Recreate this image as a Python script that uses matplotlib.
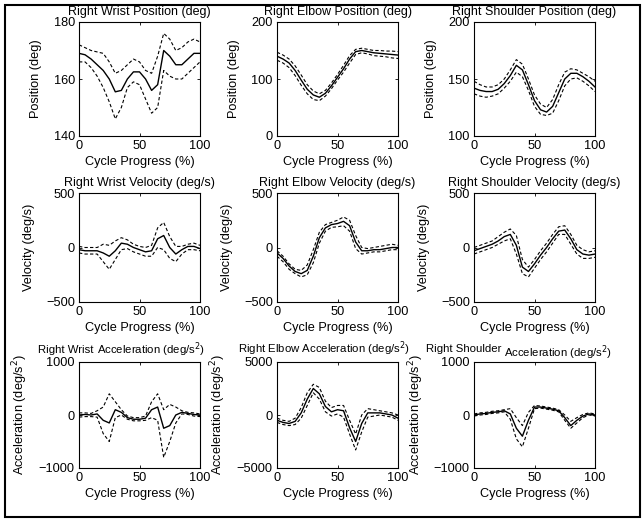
import numpy as np
import matplotlib
matplotlib.use("Agg")
import matplotlib.pyplot as plt
from matplotlib.patches import Rectangle

plt.rcParams['font.family'] = ['Liberation Sans', 'DejaVu Sans']
plt.rcParams['font.size'] = 9.2

# Cycle progress (%) sample points
progress = [0, 5, 10, 15, 20, 25, 30, 35, 40, 45, 50, 55, 60, 65, 70, 75, 80, 85, 90, 95, 100]

# Position (deg): mean, upper (+SD), lower (-SD)
wrist_pos_mean = [169, 168.5, 167, 165, 163, 160, 155.5, 156, 160, 162.5, 162.5, 160, 156, 158, 170, 168, 165, 165, 167, 169, 169]
wrist_pos_up = [172, 171, 170, 169.5, 169, 166, 162, 163, 165, 167, 166, 163, 162, 168, 176, 174, 170, 171, 173, 174, 173]
wrist_pos_low = [166, 166, 164, 161, 157, 152, 146, 150, 157, 159, 158, 153, 148, 150, 163, 161, 160, 160, 162, 164, 166]

elbow_pos_mean = [140, 135, 128, 115, 98, 82, 72, 68, 75, 88, 103, 118, 135, 148, 150, 148, 146, 145, 144, 143, 142]
elbow_pos_up = [147, 142, 135, 123, 107, 90, 79, 74, 80, 93, 108, 124, 141, 152, 154, 152, 150, 150, 149, 149, 148]
elbow_pos_low = [133, 128, 120, 106, 89, 74, 64, 62, 70, 83, 98, 112, 128, 143, 146, 144, 141, 140, 139, 137, 136]

shoulder_pos_mean = [142, 140, 139, 139, 141, 146, 153, 162, 158, 145, 131, 123, 121, 126, 138, 150, 155, 155, 152, 148, 143]
shoulder_pos_up = [148, 145, 143, 143, 145, 150, 158, 167, 163, 150, 136, 128, 125, 132, 145, 156, 159, 158, 155, 152, 148]
shoulder_pos_low = [137, 135, 134, 135, 137, 142, 148, 156, 152, 140, 126, 119, 118, 120, 131, 144, 150, 151, 148, 144, 139]

# Velocity (deg/s)
wrist_vel_mean = [-20, -30, -30, -30, -50, -80, -30, 40, 30, 0, -20, -40, -30, 80, 110, 0, -60, -20, 10, 10, -10]
wrist_vel_up = [10, 0, 0, 0, 30, 20, 60, 90, 70, 30, 10, 0, 20, 180, 230, 100, 10, 10, 30, 40, 20]
wrist_vel_low = [-50, -60, -60, -60, -130, -200, -110, -20, -10, -40, -60, -80, -80, 0, -20, -100, -130, -60, -20, -20, -30]

elbow_vel_mean = [-50, -100, -170, -220, -240, -210, -80, 90, 180, 210, 220, 240, 200, 50, -30, -30, -20, -20, -10, 0, 0]
elbow_vel_up = [-30, -80, -150, -200, -210, -160, -20, 140, 210, 230, 250, 280, 250, 110, 0, -10, 0, 10, 20, 30, 20]
elbow_vel_low = [-80, -130, -200, -240, -270, -250, -140, 40, 150, 185, 190, 200, 150, -10, -60, -50, -40, -40, -30, -20, -20]

shoulder_vel_mean = [-30, -10, 10, 30, 60, 100, 120, 20, -180, -220, -150, -70, 0, 80, 150, 160, 80, -20, -60, -70, -60]
shoulder_vel_up = [0, 20, 40, 60, 100, 140, 170, 110, -110, -180, -110, -30, 40, 120, 190, 200, 120, 20, -20, -40, -30]
shoulder_vel_low = [-60, -40, -20, 0, 30, 60, 80, -60, -240, -270, -190, -110, -40, 40, 120, 120, 30, -60, -100, -100, -90]

# Acceleration (deg/s^2)
wrist_acc_mean = [0, 10, 0, 20, -100, -150, 100, 50, -50, -80, -80, -60, 100, 150, -250, -200, 0, 50, 30, 10, 0]
wrist_acc_up = [40, 40, 30, 80, 150, 400, 250, 100, -20, -50, -50, -20, 250, 400, 100, 200, 150, 80, 50, 40, 20]
wrist_acc_low = [-40, -30, -30, -40, -350, -500, -50, 0, -80, -110, -110, -100, -50, -100, -800, -500, -150, 20, 10, -20, -30]

elbow_acc_mean = [-500, -700, -800, -600, 200, 1500, 2500, 2000, 800, 300, 500, 400, -1200, -2500, -800, 200, 200, 200, 100, 0, -300]
elbow_acc_up = [-300, -500, -600, -300, 700, 2100, 2900, 2600, 1300, 700, 900, 900, -500, -1800, 0, 600, 500, 400, 300, 200, 0]
elbow_acc_low = [-700, -900, -1000, -900, -300, 900, 2100, 1500, 300, -100, 100, -200, -1800, -3300, -1600, -200, -100, 0, -100, -200, -500]

shoulder_acc_mean = [0, 20, 30, 50, 60, 80, 20, -250, -400, -100, 150, 150, 130, 110, 80, -50, -200, -100, -20, 20, 0]
shoulder_acc_up = [20, 40, 50, 70, 80, 100, 120, -50, -200, 50, 180, 170, 150, 130, 100, 0, -120, -50, 10, 40, 20]
shoulder_acc_low = [-20, 0, 10, 30, 40, 60, -80, -450, -600, -250, 120, 130, 110, 90, 60, -100, -250, -150, -50, 0, -20]

fig = plt.figure(figsize=(6.44, 5.22), dpi=100)
W, H = 644.0, 522.0

# Frame around the whole figure
fig.patches.append(Rectangle((5 / W, 5 / H), 635 / W, 512 / H, transform=fig.transFigure,
                             fill=False, edgecolor='black', linewidth=1.5))

col_left = [79, 277, 474]
row_top = [22, 193, 362]
row_h = [114, 109, 106]
ax_w = 121

panels = [
    (wrist_pos_mean, wrist_pos_up, wrist_pos_low, 'Right Wrist Position (deg)', 'Position (deg)', (140, 180), [140, 160, 180]),
    (elbow_pos_mean, elbow_pos_up, elbow_pos_low, 'Right Elbow Position (deg)', 'Position (deg)', (0, 200), [0, 100, 200]),
    (shoulder_pos_mean, shoulder_pos_up, shoulder_pos_low, 'Right Shoulder Position (deg)', 'Position (deg)', (100, 200), [100, 150, 200]),
    (wrist_vel_mean, wrist_vel_up, wrist_vel_low, 'Right Wrist Velocity (deg/s)', 'Velocity (deg/s)', (-500, 500), [-500, 0, 500]),
    (elbow_vel_mean, elbow_vel_up, elbow_vel_low, 'Right Elbow Velocity (deg/s)', 'Velocity (deg/s)', (-500, 500), [-500, 0, 500]),
    (shoulder_vel_mean, shoulder_vel_up, shoulder_vel_low, 'Right Shoulder Velocity (deg/s)', 'Velocity (deg/s)', (-500, 500), [-500, 0, 500]),
    (wrist_acc_mean, wrist_acc_up, wrist_acc_low, None, 'Acceleration (deg/s$^2$)', (-1000, 1000), [-1000, 0, 1000]),
    (elbow_acc_mean, elbow_acc_up, elbow_acc_low, None, 'Acceleration (deg/s$^2$)', (-5000, 5000), [-5000, 0, 5000]),
    (shoulder_acc_mean, shoulder_acc_up, shoulder_acc_low, None, 'Acceleration (deg/s$^2$)', (-1000, 1000), [-1000, 0, 1000]),
]

for i, (mean, up, low, title, ylab, ylim, yticks) in enumerate(panels):
    r, c = divmod(i, 3)
    ax = fig.add_axes([col_left[c] / W, 1 - (row_top[r] + row_h[r]) / H, ax_w / W, row_h[r] / H])
    ax.plot(progress, mean, color='black', linewidth=1.0)
    ax.plot(progress, up, color='black', linewidth=0.8, linestyle=(0, (3, 2)))
    ax.plot(progress, low, color='black', linewidth=0.8, linestyle=(0, (3, 2)))
    ax.set_xlim(0, 100)
    ax.set_ylim(*ylim)
    ax.set_xticks([0, 50, 100])
    ax.set_yticks(yticks)
    ax.tick_params(direction='in', top=True, right=True, length=2.5, width=0.6, pad=3)
    for s in ax.spines.values():
        s.set_linewidth(0.8)
    ax.set_xlabel('Cycle Progress (%)', labelpad=3)
    ax.set_ylabel(ylab, labelpad=8 if r < 2 else 6)
    if title:
        ax.set_title(title, fontsize=9, pad=5)

# Bottom row titles (smaller, the wrist / shoulder ones are split in two)
ax7, ax8, ax9 = fig.axes[6], fig.axes[7], fig.axes[8]
ax7.text(0.12, 1.065, 'Right Wrist', transform=ax7.transAxes, ha='right', va='bottom', fontsize=8.2)
ax7.text(0.15, 1.03, 'Acceleration (deg/s$^2$)', transform=ax7.transAxes, ha='left', va='bottom', fontsize=8.2)
ax8.text(0.39, 1.04, 'Right Elbow Acceleration (deg/s$^2$)', transform=ax8.transAxes, ha='center', va='bottom', fontsize=8.2)
ax9.text(0.225, 1.08, 'Right Shoulder', transform=ax9.transAxes, ha='right', va='bottom', fontsize=8.2)
ax9.text(0.245, 1.0, 'Acceleration (deg/s$^2$)', transform=ax9.transAxes, ha='left', va='bottom', fontsize=8.2)

fig.savefig('out.png', dpi=100)
